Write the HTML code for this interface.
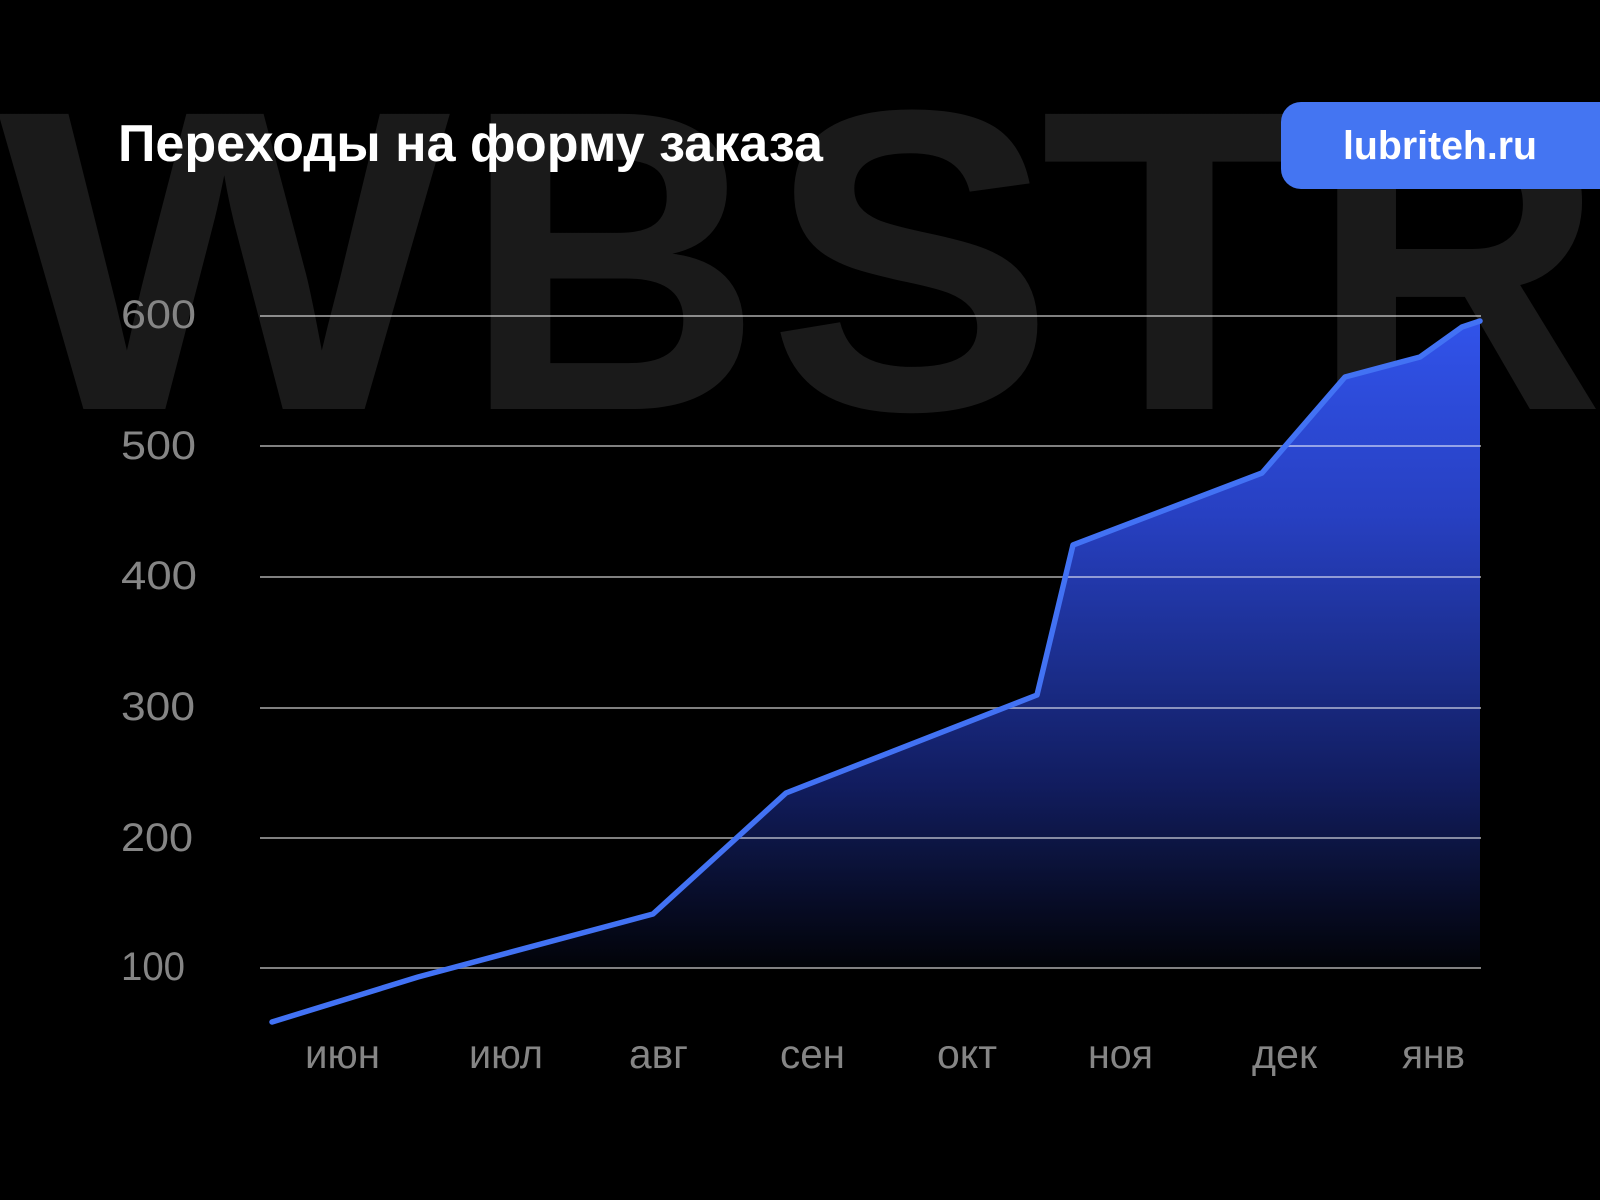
<!DOCTYPE html>
<html>
<head>
<meta charset="utf-8">
<style>
  html, body { margin: 0; padding: 0; background: #000; }
  body { width: 1600px; height: 1200px; overflow: hidden; }
  svg { display: block; }
</style>
</head>
<body>
<svg width="1600" height="1200" viewBox="0 0 1600 1200" xmlns="http://www.w3.org/2000/svg">
  <defs>
    <linearGradient id="wm" gradientUnits="userSpaceOnUse" x1="0" y1="102" x2="0" y2="409">
      <stop offset="0" stop-color="#1a1a1a"/>
      <stop offset="1" stop-color="#101010"/>
    </linearGradient>
    <linearGradient id="fill" gradientUnits="userSpaceOnUse" x1="0" y1="320" x2="0" y2="968">
      <stop offset="0" stop-color="#3153ea"/>
      <stop offset="0.3" stop-color="#2740c2"/>
      <stop offset="0.55" stop-color="#1a2c88"/>
      <stop offset="0.72" stop-color="#111c5e"/>
      <stop offset="0.82" stop-color="#0c143f"/>
      <stop offset="0.92" stop-color="#060a20"/>
      <stop offset="1" stop-color="#020308"/>
    </linearGradient>
  </defs>

  <rect x="0" y="0" width="1600" height="1200" fill="#000"/>

  <!-- watermark -->
  <g font-family="'Liberation Sans', Arial, sans-serif" font-weight="700" font-size="429" fill="url(#wm)">
    <text transform="translate(-2,409) scale(1.117,1)" x="0" y="0">W</text>
    <text transform="translate(463,409) scale(0.965,1)" x="0" y="0">B</text>
    <text transform="translate(768,409) scale(1.0,1)" x="0" y="0">S</text>
    <text transform="translate(1040,409) scale(1.065,1)" x="0" y="0">T</text>
    <text transform="translate(1310,409) scale(0.95,1)" x="0" y="0">R</text>
  </g>

  <!-- title -->
  <text x="118" y="161" font-family="'Liberation Sans', 'Noto Sans CJK SC', sans-serif" font-weight="700" font-size="52" fill="#ffffff" textLength="705" lengthAdjust="spacingAndGlyphs">Переходы на форму заказа</text>

  <!-- badge -->
  <rect x="1281" y="102" width="360" height="87" rx="20" ry="20" fill="#4475f2"/>
  <text x="1343" y="159" font-family="'Liberation Sans', sans-serif" font-weight="700" font-size="40" fill="#ffffff" textLength="194" lengthAdjust="spacingAndGlyphs">lubriteh.ru</text>

  <!-- area fill -->
  <polygon points="448,968 653,914 786,793 1037,695 1073,545 1262,473 1345,377 1420,357 1462,327 1480,321 1480,968" fill="url(#fill)"/>

  <!-- gridlines -->
  <g stroke="#ffffff" stroke-opacity="0.5" stroke-width="2">
    <line x1="260" y1="316" x2="1481" y2="316"/>
    <line x1="260" y1="446" x2="1481" y2="446"/>
    <line x1="260" y1="577" x2="1481" y2="577"/>
    <line x1="260" y1="708" x2="1481" y2="708"/>
    <line x1="260" y1="838" x2="1481" y2="838"/>
    <line x1="260" y1="968" x2="1481" y2="968"/>
  </g>

  <!-- series line -->
  <polyline points="272,1022 418,977 653,914 786,793 1037,695 1073,545 1262,473 1345,377 1420,357 1462,327 1480,321" fill="none" stroke="#4272f4" stroke-width="5.5" stroke-linejoin="round" stroke-linecap="round"/>

  <!-- y labels -->
  <g font-family="'Liberation Sans', sans-serif" font-size="40" fill="#858585">
    <text x="121" y="328" textLength="75" lengthAdjust="spacingAndGlyphs">600</text>
    <text x="121" y="459" textLength="75" lengthAdjust="spacingAndGlyphs">500</text>
    <text x="121" y="589" textLength="76" lengthAdjust="spacingAndGlyphs">400</text>
    <text x="121" y="720" textLength="74" lengthAdjust="spacingAndGlyphs">300</text>
    <text x="121" y="851" textLength="72" lengthAdjust="spacingAndGlyphs">200</text>
    <text x="121" y="980" textLength="64" lengthAdjust="spacingAndGlyphs">100</text>
  </g>

  <!-- x labels -->
  <g font-family="'Liberation Sans', 'Noto Sans CJK SC', sans-serif" font-size="41" fill="#858585">
    <text x="305" y="1068" textLength="75" lengthAdjust="spacingAndGlyphs">июн</text>
    <text x="469" y="1068" textLength="74" lengthAdjust="spacingAndGlyphs">июл</text>
    <text x="629" y="1068" textLength="59" lengthAdjust="spacingAndGlyphs">авг</text>
    <text x="780" y="1068" textLength="65" lengthAdjust="spacingAndGlyphs">сен</text>
    <text x="937" y="1068" textLength="60" lengthAdjust="spacingAndGlyphs">окт</text>
    <text x="1088" y="1068" textLength="65" lengthAdjust="spacingAndGlyphs">ноя</text>
    <text x="1252" y="1068" textLength="65" lengthAdjust="spacingAndGlyphs">дек</text>
    <text x="1402" y="1068" textLength="63" lengthAdjust="spacingAndGlyphs">янв</text>
  </g>
</svg>
</body>
</html>
